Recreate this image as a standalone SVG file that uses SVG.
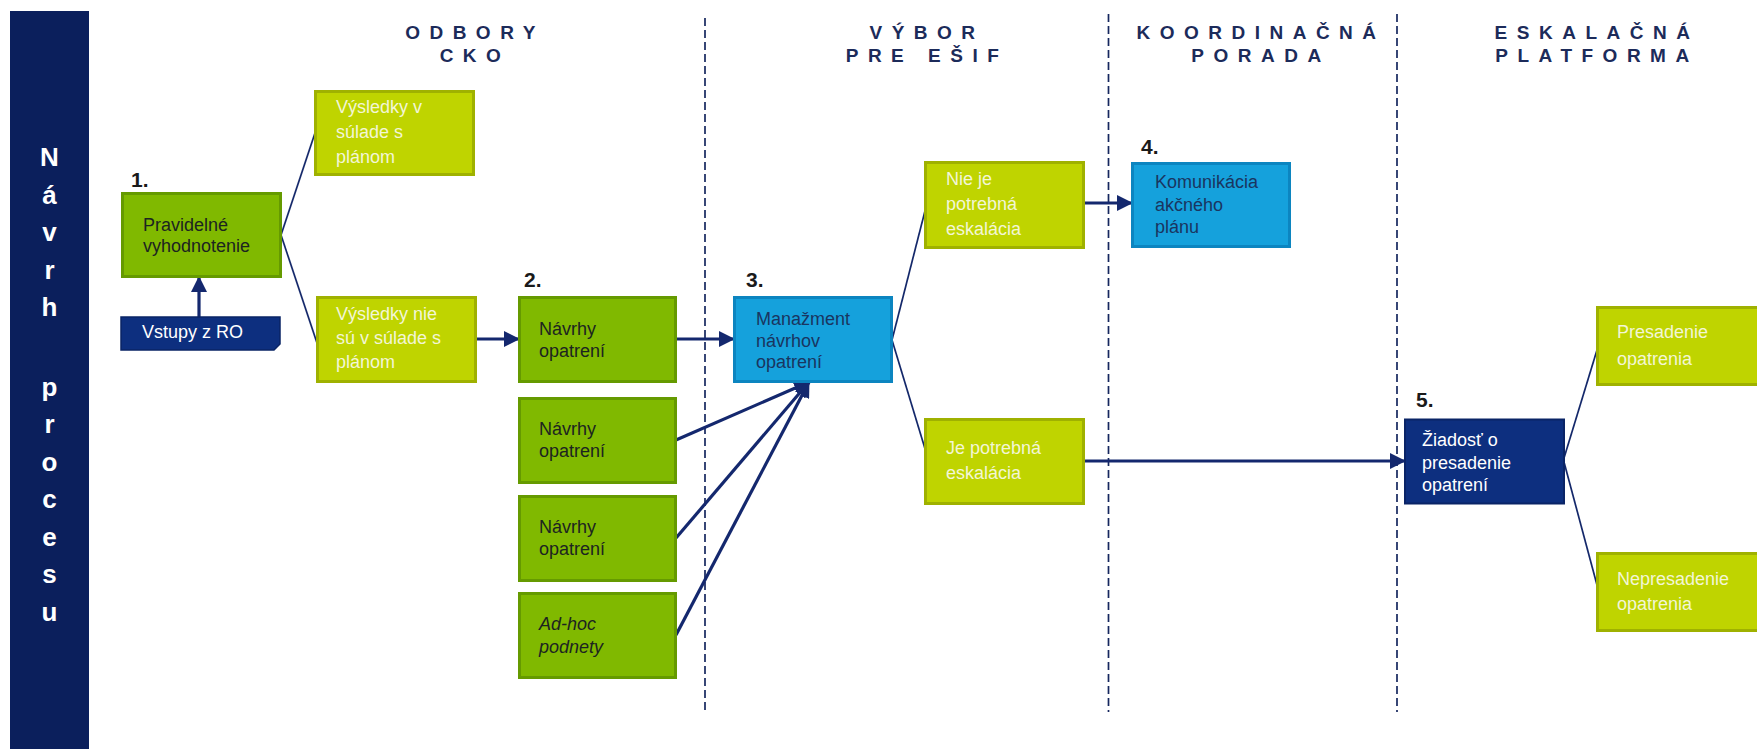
<svg xmlns="http://www.w3.org/2000/svg" width="1757" height="749" viewBox="0 0 1757 749">
<defs>
<style>
.hdr{font-family:"Liberation Sans",Arial,sans-serif;font-weight:bold;font-size:19px;fill:#1c2b5a;letter-spacing:9.5px;text-anchor:middle}
.bar{font-family:"Liberation Sans",Arial,sans-serif;font-weight:bold;font-size:26px;fill:#ffffff;text-anchor:middle}
.num{font-family:"Liberation Sans",Arial,sans-serif;font-weight:bold;font-size:21px;fill:#1a1a1a}
.t{font-family:"Liberation Sans",Arial,sans-serif;font-size:18px}
.green{fill:#80b900;stroke:#659a00;stroke-width:3}
.yel{fill:#bfd400;stroke:#9fb100;stroke-width:3}
.blue{fill:#15a1dc;stroke:#0c85c0;stroke-width:3}
.navy{fill:#0d2f7f;stroke:#0a2466;stroke-width:2}
.tg{fill:#1c2420}
.ty{fill:#f3f6d6}
.tb{fill:#1a3560}
.tw{fill:#ffffff}
.dash{stroke:#16275e;stroke-width:1.7;stroke-dasharray:8 4;fill:none}
.thin{stroke:#14286a;stroke-width:1.7;fill:none}
.arr{stroke:#14286e;stroke-width:3.2;fill:none;marker-end:url(#ah)}
</style>
<marker id="ah" markerUnits="userSpaceOnUse" markerWidth="16" markerHeight="16" refX="15" refY="8" orient="auto">
<path d="M0,0 L16,8 L0,16 Z" fill="#14286e"/>
</marker>
</defs>
<rect width="1757" height="749" fill="#ffffff"/>

<g id="sidebar">
<rect x="10" y="11" width="79" height="738" fill="#0b1f5c"/>
<text class="bar" x="49.5" y="166">N</text>
<text class="bar" x="49.5" y="203.5">á</text>
<text class="bar" x="49.5" y="241">v</text>
<text class="bar" x="49.5" y="278.5">r</text>
<text class="bar" x="49.5" y="316">h</text>
<text class="bar" x="49.5" y="395.5">p</text>
<text class="bar" x="49.5" y="433">r</text>
<text class="bar" x="49.5" y="470.5">o</text>
<text class="bar" x="49.5" y="508">c</text>
<text class="bar" x="49.5" y="545.5">e</text>
<text class="bar" x="49.5" y="583">s</text>
<text class="bar" x="49.5" y="620.5">u</text>
</g>

<g id="headers">
<text class="hdr" x="475" y="38.5">ODBORY</text>
<text class="hdr" x="475" y="62">CKO</text>
<text class="hdr" x="927" y="38.5">VÝBOR</text>
<text class="hdr" x="927" y="62">PRE EŠIF</text>
<text class="hdr" x="1261" y="38.5">KOORDINAČNÁ</text>
<text class="hdr" x="1261" y="62">PORADA</text>
<text class="hdr" x="1597" y="38.5">ESKALAČNÁ</text>
<text class="hdr" x="1597" y="62">PLATFORMA</text>
</g>

<g id="lanes">
<line class="dash" x1="705" y1="18" x2="705" y2="712"/>
<line class="dash" x1="1108.5" y1="14" x2="1108.5" y2="712"/>
<line class="dash" x1="1397" y1="14" x2="1397" y2="712"/>
</g>

<g id="connectors">
<line class="thin" x1="281" y1="235" x2="316" y2="130"/>
<line class="thin" x1="281" y1="235" x2="317" y2="343"/>
<line class="thin" x1="892" y1="340" x2="926" y2="207"/>
<line class="thin" x1="892" y1="340" x2="926" y2="452"/>
<line class="thin" x1="1564" y1="458" x2="1597" y2="350"/>
<line class="thin" x1="1564" y1="462" x2="1597" y2="585"/>
<line class="arr" x1="199" y1="317" x2="199" y2="277"/>
<line class="arr" x1="476" y1="339" x2="519" y2="339"/>
<line class="arr" x1="676" y1="339" x2="734" y2="339"/>
<line class="arr" x1="676" y1="440" x2="809" y2="382"/>
<line class="arr" x1="676" y1="538" x2="809" y2="382"/>
<line class="arr" x1="676" y1="635" x2="809" y2="382"/>
<line class="arr" x1="1083" y1="203" x2="1132" y2="203"/>
<line class="arr" x1="1084" y1="461" x2="1405" y2="461"/>
</g>

<g id="n1">
<text class="num" x="131" y="187">1.</text>
<rect class="green" x="122.5" y="193.5" width="158" height="83"/>
<text class="t tg" x="143" y="231">Pravidelné</text>
<text class="t tg" x="143" y="252">vyhodnotenie</text>
</g>

<g id="vstupy">
<path d="M121,317 H280 V344 L274,350 H121 Z" fill="#0d2f7f" stroke="#0a2466" stroke-width="1.5"/>
<text class="t tw" x="142" y="338">Vstupy z RO</text>
</g>

<g id="vysledky-v-sulade">
<rect class="yel" x="315.5" y="91.5" width="158" height="83"/>
<text class="t ty" x="336" y="113">Výsledky v</text>
<text class="t ty" x="336" y="138">súlade s</text>
<text class="t ty" x="336" y="163">plánom</text>
</g>

<g id="vysledky-nie">
<rect class="yel" x="317.5" y="297.5" width="158" height="84"/>
<text class="t ty" x="336" y="320">Výsledky nie</text>
<text class="t ty" x="336" y="344">sú v súlade s</text>
<text class="t ty" x="336" y="368">plánom</text>
</g>

<g id="n2">
<text class="num" x="524" y="287">2.</text>
<rect class="green" x="519.5" y="297.5" width="156" height="84"/>
<text class="t tg" x="539" y="335">Návrhy</text>
<text class="t tg" x="539" y="357">opatrení</text>
</g>

<g id="navrhy-b">
<rect class="green" x="519.5" y="398.5" width="156" height="84"/>
<text class="t tg" x="539" y="435">Návrhy</text>
<text class="t tg" x="539" y="457">opatrení</text>
</g>

<g id="navrhy-c">
<rect class="green" x="519.5" y="496.5" width="156" height="84"/>
<text class="t tg" x="539" y="533">Návrhy</text>
<text class="t tg" x="539" y="555">opatrení</text>
</g>

<g id="adhoc">
<rect class="green" x="519.5" y="593.5" width="156" height="84"/>
<text class="t tg" x="539" y="630" font-style="italic">Ad-hoc</text>
<text class="t tg" x="539" y="653" font-style="italic">podnety</text>
</g>

<g id="n3">
<text class="num" x="746" y="287">3.</text>
<rect class="blue" x="734.5" y="297.5" width="157" height="84"/>
<text class="t tb" x="756" y="325">Manažment</text>
<text class="t tb" x="756" y="347">návrhov</text>
<text class="t tb" x="756" y="368">opatrení</text>
</g>

<g id="nie-je">
<rect class="yel" x="925.5" y="162.5" width="158" height="85"/>
<text class="t ty" x="946" y="185">Nie je</text>
<text class="t ty" x="946" y="210">potrebná</text>
<text class="t ty" x="946" y="235">eskalácia</text>
</g>

<g id="je">
<rect class="yel" x="925.5" y="419.5" width="158" height="84"/>
<text class="t ty" x="946" y="454">Je potrebná</text>
<text class="t ty" x="946" y="479">eskalácia</text>
</g>

<g id="n4">
<text class="num" x="1141" y="154">4.</text>
<rect class="blue" x="1132.5" y="163.5" width="157" height="83"/>
<text class="t tb" x="1155" y="188">Komunikácia</text>
<text class="t tb" x="1155" y="211">akčného</text>
<text class="t tb" x="1155" y="233">plánu</text>
</g>

<g id="n5">
<text class="num" x="1416" y="407">5.</text>
<rect class="navy" x="1405" y="419.5" width="159" height="84"/>
<text class="t tw" x="1422" y="446">Žiadosť o</text>
<text class="t tw" x="1422" y="469">presadenie</text>
<text class="t tw" x="1422" y="491">opatrení</text>
</g>

<g id="presadenie">
<rect class="yel" x="1597.5" y="307.5" width="170" height="77"/>
<text class="t ty" x="1617" y="338">Presadenie</text>
<text class="t ty" x="1617" y="365">opatrenia</text>
</g>

<g id="nepresadenie">
<rect class="yel" x="1597.5" y="553.5" width="170" height="77"/>
<text class="t ty" x="1617" y="585">Nepresadenie</text>
<text class="t ty" x="1617" y="610">opatrenia</text>
</g>
</svg>
